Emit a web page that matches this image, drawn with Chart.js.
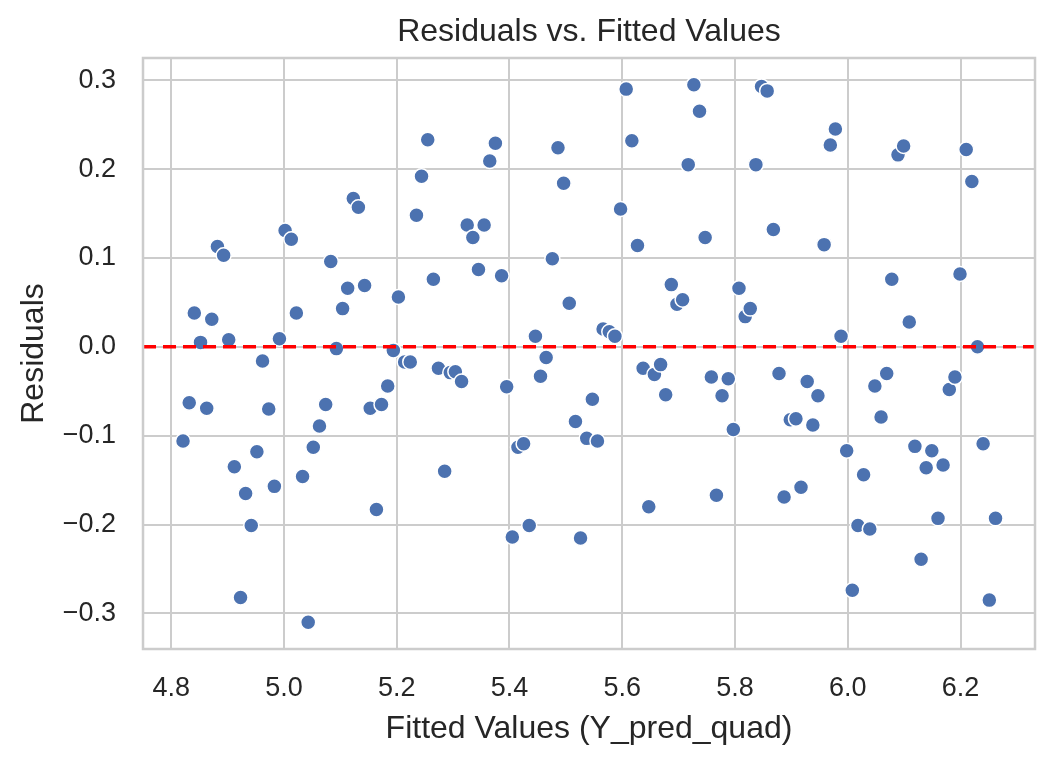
<!DOCTYPE html>
<html>
<head>
<meta charset="utf-8">
<script src="https://cdn.jsdelivr.net/npm/chart.js@4.4.1/dist/chart.umd.min.js"></script>
<style>
  body { margin: 0; background: #fff; }
  canvas { display: block; }
</style>
</head>
<body>
<canvas id="myChart" width="1054" height="761"></canvas>
<script>
const fittedValues = [
  4.821, 4.832, 4.841, 4.852, 4.863, 4.872, 4.882, 4.893, 4.902, 4.912,
  4.923, 4.932, 4.942, 4.952, 4.962, 4.973, 4.983, 4.992, 5.002, 5.013,
  5.022, 5.033, 5.043, 5.052, 5.063, 5.074, 5.083, 5.093, 5.104, 5.113,
  5.123, 5.132, 5.143, 5.153, 5.164, 5.173, 5.184, 5.194, 5.203, 5.214,
  5.224, 5.235, 5.244, 5.255, 5.265, 5.274, 5.285, 5.295, 5.304, 5.315,
  5.325, 5.335, 5.345, 5.355, 5.365, 5.375, 5.386, 5.395, 5.405, 5.415,
  5.425, 5.435, 5.446, 5.455, 5.465, 5.476, 5.486, 5.496, 5.506, 5.517,
  5.526, 5.537, 5.547, 5.556, 5.566, 5.577, 5.587, 5.597, 5.607, 5.617,
  5.627, 5.637, 5.647, 5.657, 5.668, 5.677, 5.687, 5.697, 5.707, 5.717,
  5.727, 5.737, 5.747, 5.758, 5.767, 5.777, 5.788, 5.797, 5.807, 5.818,
  5.827, 5.837, 5.847, 5.857, 5.868, 5.878, 5.887, 5.898, 5.908, 5.917,
  5.928, 5.938, 5.947, 5.958, 5.969, 5.978, 5.988, 5.998, 6.008, 6.018,
  6.028, 6.039, 6.048, 6.059, 6.069, 6.078, 6.089, 6.099, 6.109, 6.119,
  6.130, 6.139, 6.149, 6.160, 6.169, 6.180, 6.190, 6.199, 6.210, 6.220,
  6.230, 6.240, 6.251, 6.262
];

const residuals = [
  -0.106, -0.063, 0.038, 0.005, -0.069, 0.031, 0.113, 0.103, 0.008, -0.135,
  -0.282, -0.165, -0.201, -0.118, -0.016, -0.070, -0.157, 0.009, 0.131, 0.121,
  0.038, -0.146, -0.310, -0.113, -0.089, -0.065, 0.096, -0.002, 0.043, 0.066,
  0.167, 0.157, 0.069, -0.069, -0.183, -0.065, -0.044, -0.004, 0.056, -0.017,
  -0.017, 0.148, 0.192, 0.233, 0.076, -0.024, -0.140, -0.029, -0.028, -0.039,
  0.137, 0.123, 0.087, 0.137, 0.209, 0.229, 0.080, -0.045, -0.214, -0.113,
  -0.109, -0.201, 0.012, -0.033, -0.012, 0.099, 0.224, 0.184, 0.049, -0.084,
  -0.215, -0.103, -0.059, -0.106, 0.020, 0.017, 0.012, 0.155, 0.290, 0.232,
  0.114, -0.024, -0.180, -0.031, -0.020, -0.054, 0.070, 0.048, 0.053, 0.205,
  0.295, 0.265, 0.123, -0.034, -0.167, -0.055, -0.036, -0.093, 0.066, 0.034,
  0.043, 0.205, 0.293, 0.288, 0.132, -0.030, -0.169, -0.082, -0.081, -0.158,
  -0.039, -0.088, -0.055, 0.115, 0.227, 0.245, 0.012, -0.117, -0.274, -0.201,
  -0.144, -0.205, -0.044, -0.079, -0.030, 0.076, 0.216, 0.226, 0.028, -0.112,
  -0.239, -0.136, -0.117, -0.193, -0.133, -0.048, -0.034, 0.082, 0.222, 0.186,
  0.000, -0.109, -0.285, -0.193
];

const xTicks = [4.8, 5.0, 5.2, 5.4, 5.6, 5.8, 6.0, 6.2];
const yTicks = [-0.3, -0.2, -0.1, 0.0, 0.1, 0.2, 0.3];
const xRange = [4.750, 6.332];
const yRange = [-0.340, 0.325];
const zeroLine = 0;
const chartTitle = 'Residuals vs. Fitted Values';

const FONT = "'Liberation Sans', Arial, Helvetica, sans-serif";
const TEXT = '#262626';
const GRID = '#cccccc';

const fmt = v => (v < 0 ? '\u2212' : '') + Math.abs(v).toFixed(1);

// red dashed y=0 line, axes frame, and title centred over the plot area
const overlay = {
  id: 'overlay',
  afterDatasetsDraw(chart) {
    const { ctx, chartArea: a, scales } = chart;
    const y = scales.y.getPixelForValue(zeroLine);
    ctx.save();
    ctx.strokeStyle = '#ff0000';
    ctx.lineWidth = 3.5;
    ctx.setLineDash([13, 7]);
    ctx.beginPath();
    ctx.moveTo(a.left, y);
    ctx.lineTo(a.right, y);
    ctx.stroke();
    ctx.setLineDash([]);
    ctx.strokeStyle = GRID;
    ctx.lineWidth = 2.5;
    ctx.strokeRect(a.left, a.top, a.right - a.left, a.bottom - a.top);

    ctx.fillStyle = TEXT;
    ctx.font = '32px ' + FONT;
    ctx.textAlign = 'center';
    ctx.textBaseline = 'middle';
    ctx.fillText(chartTitle, (a.left + a.right) / 2, 32);
    ctx.restore();
  }
};

const points = fittedValues.map((x, i) => ({ x: x, y: residuals[i] }));

new Chart(document.getElementById('myChart'), {
  type: 'scatter',
  data: {
    datasets: [{
      data: points,
      backgroundColor: '#4c72b0',
      borderColor: '#ffffff',
      borderWidth: 1.5,
      pointRadius: 7.5,
      pointHoverRadius: 7.5
    }]
  },
  options: {
    responsive: false,
    animation: false,
    devicePixelRatio: 1,
    layout: { padding: { left: 0, right: 19, top: 58, bottom: 0 } },
    plugins: {
      legend: { display: false },
      tooltip: { enabled: false },
      title: { display: false }
    },
    scales: {
      x: {
        type: 'linear',
        min: xRange[0],
        max: xRange[1],
        afterBuildTicks: s => { s.ticks = xTicks.map(v => ({ value: v })); },
        afterFit: s => { s.height = 112; },
        grid: { color: GRID, lineWidth: 2, drawTicks: false },
        border: { display: false },
        ticks: {
          color: TEXT,
          padding: 23,
          font: { family: FONT, size: 27 },
          callback: v => v.toFixed(1)
        },
        title: {
          display: true,
          text: 'Fitted Values (Y_pred_quad)',
          color: TEXT,
          font: { family: FONT, size: 32 },
          padding: { top: 0, bottom: 13 }
        }
      },
      y: {
        type: 'linear',
        min: yRange[0],
        max: yRange[1],
        afterBuildTicks: s => { s.ticks = yTicks.map(v => ({ value: v })); },
        afterFit: s => { s.width = 143; },
        grid: { color: GRID, lineWidth: 2, drawTicks: false },
        border: { display: false },
        ticks: {
          color: TEXT,
          padding: 27,
          font: { family: FONT, size: 27 },
          callback: v => fmt(v)
        },
        title: {
          display: true,
          text: 'Residuals',
          color: TEXT,
          font: { family: FONT, size: 32 },
          padding: { top: 15, bottom: 0 }
        }
      }
    }
  },
  plugins: [overlay]
});
</script>
</body>
</html>
